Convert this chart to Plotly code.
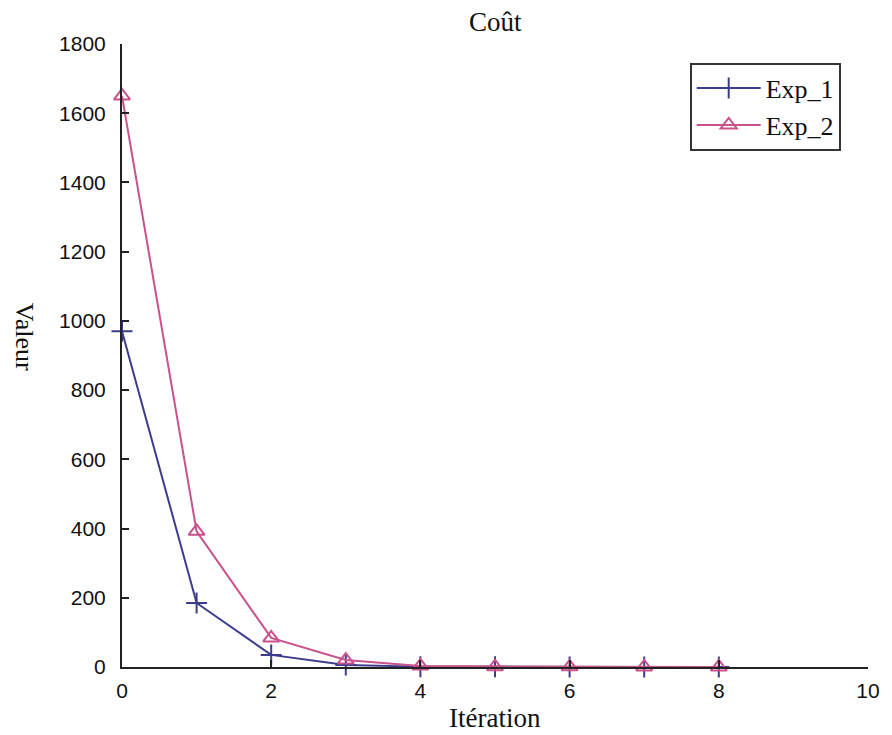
import plotly.graph_objects as go

iterations = [0, 1, 2, 3, 4, 5, 6, 7, 8]
exp_1 = [970, 185, 35, 6, 1, 0.5, 0.3, 0.2, 0.1]
exp_2 = [1650, 392, 84, 20, 3, 1, 0.5, 0.3, 0.2]
x_ticks = [0, 2, 4, 6, 8, 10]
y_ticks = [0, 200, 400, 600, 800, 1000, 1200, 1400, 1600, 1800]

serif = "Liberation Serif"
sans = "Liberation Sans"

fig = go.Figure()
fig.add_trace(go.Scatter(
    x=iterations, y=exp_1, name="Exp_1", mode="lines+markers",
    line=dict(color="#3c3c8e", width=2),
    marker=dict(symbol="cross-thin", size=15, line=dict(color="#3c3c8e", width=2)),
    cliponaxis=False,
))
fig.add_trace(go.Scatter(
    x=iterations, y=exp_2, name="Exp_2", mode="lines+markers",
    line=dict(color="#c9528c", width=2),
    marker=dict(symbol="triangle-up-open", size=14, color="#c9528c", line=dict(color="#c9528c", width=2)),
    cliponaxis=False,
))

fig.update_layout(
    width=884, height=727,
    margin=dict(l=114, r=20, t=36, b=68),
    plot_bgcolor="white", paper_bgcolor="white",
    showlegend=True,
    legend=dict(
        x=0.761, y=0.97, xanchor="left", yanchor="top",
        bordercolor="#333333", borderwidth=2, bgcolor="white",
        font=dict(family=serif, size=26, color="#111111"),
        tracegroupgap=0, itemwidth=64,
    ),
    annotations=[
        dict(text="Coût", x=0.5, y=1, xref="paper", yref="paper", xanchor="center", yanchor="middle",
             yshift=22, showarrow=False, font=dict(family=serif, size=27, color="#111111")),
        dict(text="Itération", x=0.5, y=0, xref="paper", yref="paper", xanchor="center", yanchor="middle",
             yshift=-51, showarrow=False, font=dict(family=serif, size=27, color="#111111")),
        dict(text="Valeur", x=0, y=0.53, xref="paper", yref="paper", xanchor="center", yanchor="middle",
             xshift=-98, showarrow=False, textangle=90,
             font=dict(family=serif, size=26, color="#111111")),
    ],
)
fig.update_xaxes(
    range=[0, 10], tickvals=x_ticks, ticktext=[str(v) for v in x_ticks],
    showline=True, linecolor="#222222", linewidth=2, showgrid=False, zeroline=False,
    ticks="inside", ticklen=7, tickwidth=2, tickcolor="#222222", ticklabelstandoff=4,
    tickfont=dict(family=sans, size=21, color="#111111"),
)
fig.update_yaxes(
    range=[0, 1800], tickvals=y_ticks, ticktext=[str(v) for v in y_ticks],
    showline=True, linecolor="#222222", linewidth=2, showgrid=False, zeroline=False,
    ticks="inside", ticklen=7, tickwidth=2, tickcolor="#222222", ticklabelstandoff=10,
    tickfont=dict(family=sans, size=21, color="#111111"),
)

fig.write_html("out.html")
